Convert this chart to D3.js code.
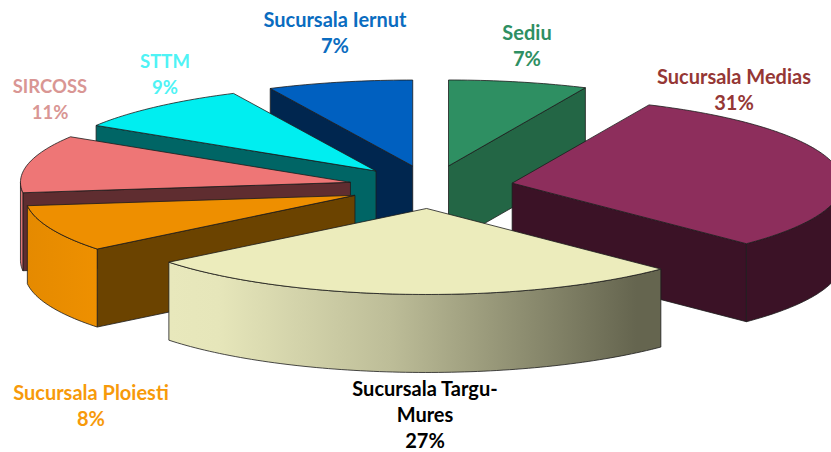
<!DOCTYPE html>
<html>
<head>
<meta charset="utf-8">
<script src="https://cdnjs.cloudflare.com/ajax/libs/d3/7.8.5/d3.min.js"></script>
<style>html,body{margin:0;padding:0;background:#fff;overflow:hidden}svg{display:block}text{font-family:Lato,"Open Sans",sans-serif;font-weight:700}</style>
</head>
<body>
<svg id="c" width="831" height="452"></svg>
<script>
const categories = ["Sediu","Sucursala Medias","Sucursala Targu-Mures","Sucursala Ploiesti","SIRCOSS","STTM","Sucursala Iernut"];
const values = [6.8,30.6,26.8,8.8,10.8,9.0,7.1];
const percentLabels = ["7%","31%","27%","8%","11%","9%","7%"];
const nameLines = [["Sediu"],["Sucursala Medias"],["Sucursala Targu-","Mures"],["Sucursala Ploiesti"],["SIRCOSS"],["STTM"],["Sucursala Iernut"]];
const topColors = ["#2e8f62","#8d2e5c","#ececbc","#ee8f00","#ee7676","#00eef0","#0060c0"];
const wallColors = ["#236645","#3b1226","#666650","#6b4300","#5f2d30","#006565","#00264f"];
const rimColors = [["#236645","#236645"],["#3b1226","#3b1226"],["#e8e8bc","#65654f"],["#e58a00","#ee9000"],["#d87070","#e87878"],["#006565","#006565"],["#00264f","#00264f"]];
const labelColors = ["#2e8f62","#953735","#000000","#f79a0a","#d99694","#4ff3f5","#0a6cc0"];
const labelX = [527,734,425,91,50,165,335];
const labelY = [40,84,396,400,93,68,27];
const labelSize = [20,20,20,20,18.5,18.5,20];
const paintOrder = [6,0,5,4,3,1,2];

const W=831,H=452,cx=431,cy=187,Rx=330,Ry=86,depth=78,explode=0.25,lh=26;
const svg=d3.select("#c");
const sx=d3.scaleLinear().domain([-1,1]).range([cx-Rx,cx+Rx]);
const sy=d3.scaleLinear().domain([-1,1]).range([cy-Ry,cy+Ry]);
const arcs=d3.pie().sort(null).value(d=>d)(values);
const defs=svg.append("defs");
const line=d3.line();
const pt=(u,v,dz=0)=>[sx(u),sy(v)+dz];

function ringPoints(a0,a1,ox,oy,dz){
  const n=Math.max(2,Math.ceil((a1-a0)/0.02));
  return d3.range(n+1).map(i=>{const a=a0+(a1-a0)*i/n;return pt(ox+Math.sin(a),oy-Math.cos(a),dz);});
}
const fillOpts={stroke:"#1c1c1c","stroke-width":0.8,"stroke-linejoin":"round"};
function face(pts,fill){
  const p=svg.append("path").attr("d",line(pts)+"Z").attr("fill",fill);
  Object.entries(fillOpts).forEach(([k,v])=>p.attr(k,v));
}
paintOrder.forEach(i=>{
  const d=arcs[i],a0=d.startAngle,a1=d.endAngle,mid=(a0+a1)/2;
  const ox=explode*Math.sin(mid),oy=-explode*Math.cos(mid);
  const apex=pt(ox,oy);
  const edge=a=>pt(ox+Math.sin(a),oy-Math.cos(a));
  const wall=a=>{const e=edge(a);face([apex,e,[e[0],e[1]+depth],[apex[0],apex[1]+depth]],wallColors[i]);};
  if(Math.sin(a0)<-1e-6) wall(a0);
  if(Math.sin(a1)>1e-6) wall(a1);
  const r0=Math.max(a0,Math.PI/2),r1=Math.min(a1,Math.PI*1.5);
  if(r1>r0){
    const top=ringPoints(r0,r1,ox,oy,0),bot=ringPoints(r0,r1,ox,oy,depth).reverse();
    const id="rim"+i,xs=top.map(p=>p[0]);
    const g=defs.append("linearGradient").attr("id",id).attr("gradientUnits","userSpaceOnUse")
      .attr("x1",d3.min(xs)).attr("x2",d3.max(xs)).attr("y1",0).attr("y2",0);
    g.append("stop").attr("offset",0).attr("stop-color",rimColors[i][0]);
    if(i===2){g.append("stop").attr("offset",0.1).attr("stop-color","#e6e6ba");g.append("stop").attr("offset",0.45).attr("stop-color","#bdbd98");}
    g.append("stop").attr("offset",i===2?0.95:1).attr("stop-color",rimColors[i][1]);
    face(top.concat(bot),`url(#${id})`);
  }
  face([apex].concat(ringPoints(a0,a1,ox,oy,0)),topColors[i]);
});
categories.forEach((c,i)=>{
  const lines=nameLines[i].concat([percentLabels[i]]);
  const t=svg.append("text").attr("text-anchor","middle").attr("fill",labelColors[i]).attr("font-size",labelSize[i]);
  lines.forEach((s,j)=>t.append("tspan").attr("x",labelX[i]).attr("y",labelY[i]+j*lh).text(s));
});
</script>
</body>
</html>
